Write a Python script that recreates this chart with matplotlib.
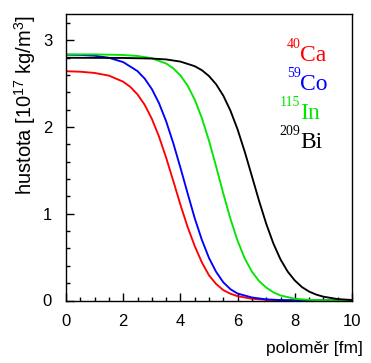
import matplotlib
matplotlib.use("Agg")
import matplotlib.pyplot as plt
from matplotlib.ticker import MultipleLocator

# radius grid [fm] and densities [1e17 kg/m^3]
r_ca = [0, 0.5, 1.0, 1.5, 2.0, 2.25, 2.5, 2.75, 3.0, 3.25, 3.5, 3.75, 4.0, 4.25, 4.5, 4.75,
        5.0, 5.25, 5.5, 5.75, 6.0, 6.5, 7.0, 7.5, 8.0, 8.5, 10.0]
rho_ca = [2.645, 2.639, 2.625, 2.594, 2.524, 2.464, 2.377, 2.258, 2.097, 1.893, 1.649, 1.380,
          1.106, 0.850, 0.629, 0.440, 0.290, 0.190, 0.120, 0.078, 0.050, 0.020, 0.008, 0.003,
          0.001, 0.0, 0.0]

r_co = [0, 0.5, 1.0, 1.5, 2.0, 2.5, 2.75, 3.0, 3.25, 3.5, 3.75, 4.0, 4.25, 4.5, 4.75, 5.0,
        5.25, 5.5, 5.75, 6.0, 6.5, 7.0, 7.5, 8.0, 8.5, 10.0]
rho_co = [2.835, 2.833, 2.824, 2.800, 2.750, 2.646, 2.560, 2.440, 2.278, 2.069, 1.816, 1.533,
          1.239, 0.950, 0.700, 0.490, 0.330, 0.210, 0.130, 0.080, 0.035, 0.013, 0.005, 0.002,
          0.0, 0.0]

r_in = [0, 1.0, 2.0, 2.5, 3.0, 3.5, 3.75, 4.0, 4.25, 4.5, 4.75, 5.0, 5.25, 5.5, 5.75, 6.0,
        6.25, 6.5, 6.75, 7.0, 7.25, 7.5, 8.0, 8.5, 9.0, 9.5, 10.0]
rho_in = [2.840, 2.839, 2.832, 2.821, 2.795, 2.734, 2.678, 2.597, 2.480, 2.318, 2.105, 1.843,
          1.544, 1.234, 0.941, 0.688, 0.485, 0.333, 0.224, 0.149, 0.095, 0.058, 0.020, 0.007,
          0.002, 0.0005, 0.0]

r_bi = [0, 2.0, 3.0, 3.5, 4.0, 4.5, 4.75, 5.0, 5.25, 5.5, 5.75, 6.0, 6.25, 6.5, 6.75, 7.0,
        7.25, 7.5, 7.75, 8.0, 8.25, 8.5, 8.75, 9.0, 9.5, 10.0]
rho_bi = [2.800, 2.798, 2.791, 2.781, 2.756, 2.703, 2.657, 2.589, 2.494, 2.363, 2.190, 1.973,
          1.716, 1.434, 1.150, 0.886, 0.658, 0.474, 0.334, 0.231, 0.155, 0.103, 0.068, 0.044,
          0.016, 0.006]

nuclei_mass = ["40", "59", "115", "209"]
nuclei_symbol = ["Ca", "Co", "In", "Bi"]
colors = ["#ff0000", "#0000ff", "#00e600", "#000000"]

x_ticks = [0, 2, 4, 6, 8, 10]
y_ticks = [0, 1, 2, 3]

plt.rcParams["mathtext.fontset"] = "custom"
plt.rcParams["mathtext.rm"] = "Liberation Sans"
plt.rcParams["mathtext.it"] = "Liberation Sans"

fig = plt.figure(figsize=(3.71, 3.63), dpi=100)
ax = fig.add_axes([66/371, 1-300.5/363, (352-66)/371, (300.5-14)/363])

for rr, rho, c in zip([r_ca, r_co, r_in, r_bi], [rho_ca, rho_co, rho_in, rho_bi], colors):
    ax.plot(rr, rho, color=c, lw=1.35, solid_joinstyle="round")

ax.set_xlim(0, 10)
ax.set_ylim(0, 3.305)
ax.set_xticks(x_ticks)
ax.set_yticks(y_ticks)
ax.xaxis.set_minor_locator(MultipleLocator(0.5))
ax.yaxis.set_minor_locator(MultipleLocator(0.2))
ax.tick_params(which="both", direction="in", top=False, right=False, width=1.0)
ax.tick_params(which="major", length=5.5, labelsize=12, pad=10)
ax.tick_params(which="minor", length=3)
for lab in ax.get_xticklabels() + ax.get_yticklabels():
    lab.set_fontfamily("Liberation Sans")
for s in ax.spines.values():
    s.set_linewidth(1.0)

# legend-like labels
x0 = 8.18
y0 = 2.766
dy = 0.335
for i, (m, s, c) in enumerate(zip(nuclei_mass, nuclei_symbol, colors)):
    yb = y0 - i * dy
    ax.text(x0, yb, s, color=c, fontsize=17, family="Liberation Serif",
            ha="left", va="baseline")
    ax.text(x0 + 0.02, yb + 0.145, m, color=c, fontsize=10, family="Liberation Serif",
            ha="right", va="baseline")

fig.text(363/371, 1-348/363, "poloměr [fm]", fontsize=12.5, family="Liberation Sans",
         ha="right", va="center")
fig.text(25/371, 1-15/363, r"hustota [10$^{17}$ kg/m$^{3}$]", fontsize=14.5,
         family="Liberation Sans", rotation=90, ha="center", va="top")

fig.savefig("out.png", dpi=100)
